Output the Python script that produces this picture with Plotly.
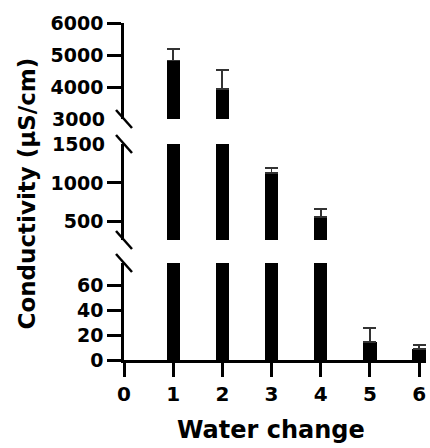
import plotly.graph_objects as go

# Conductivity after each water change (mean, upper SEM)
changes = [1, 2, 3, 4, 5, 6]
conductivity = [4830, 3940, 1123, 565, 14.6, 8.5]
sem = [350, 590, 72, 100, 10.7, 3.2]

x_ticks = [0, 1, 2, 3, 4, 5, 6]
low_ticks = [0, 20, 40, 60]
mid_ticks = [500, 1000]
high_ticks = [4000, 5000, 6000]
# labels sitting on the axis breaks (no tick mark there)
break_labels = [("y2", 1500, "1500"), ("y3", 3000, "3000")]

W, H = 430, 448
M = dict(l=124, r=4, t=23, b=88)
plot_h = H - M["t"] - M["b"]
plot_w = W - M["l"] - M["r"]
y_zero = H - M["b"]


def frac(py):
    return (y_zero - py) / plot_h


# three stacked segments of the broken y axis (pixel rows)
dom_low = [0, frac(263)]
dom_mid = [frac(240), frac(144)]
dom_high = [frac(119), 1]

FONT = "DejaVu Sans"
tick_font = dict(family=FONT, size=19, color="black", weight="bold")

fig = go.Figure()
for yref in ["y", "y2", "y3"]:
    fig.add_trace(go.Bar(
        x=changes, y=conductivity, width=0.27, yaxis=yref,
        marker=dict(color="black", line=dict(width=0)),
        error_y=dict(type="data", array=sem, arrayminus=[0] * len(sem),
                     symmetric=False, color="#333333", thickness=1.8, width=6.5),
        showlegend=False,
    ))

axis_style = dict(showline=True, linewidth=2.5, linecolor="black",
                  ticks="outside", ticklen=14, tickwidth=2.5, tickcolor="black",
                  showgrid=False, zeroline=False, tickfont=tick_font,
                  fixedrange=True)

fig.update_layout(
    width=W, height=H, margin=M,
    paper_bgcolor="white", plot_bgcolor="white",
    bargap=0,
    xaxis=dict(range=[0, 6.14], tickvals=x_ticks, anchor="y",
               tickfont=dict(family=FONT, size=20, color="black", weight="bold"),
               **{k: v for k, v in axis_style.items() if k != "tickfont"}),
    yaxis=dict(domain=dom_low, range=[0, 77.6], tickvals=low_ticks, anchor="x",
               **axis_style),
    yaxis2=dict(domain=dom_mid, range=[265, 1500], tickvals=mid_ticks, anchor="x",
                **axis_style),
    yaxis3=dict(domain=dom_high, range=[3000, 6000], tickvals=high_ticks, anchor="x",
                **axis_style),
)

for yref, val, txt in break_labels:
    fig.add_annotation(x=0, xref="paper", xanchor="right", xshift=-17,
                       y=val, yref=yref, yanchor="middle", showarrow=False,
                       text=txt, font=tick_font)

# axis-break slashes
for fy in [dom_high[0], dom_mid[1], dom_mid[0], dom_low[1]]:
    fig.add_shape(type="line", xref="paper", yref="paper",
                  xsizemode="pixel", ysizemode="pixel",
                  xanchor=0, yanchor=fy, x0=-8, x1=8, y0=9, y1=-9,
                  line=dict(color="black", width=2.5))

fig.add_annotation(text="Conductivity (µS/cm)", textangle=-90,
                   x=(26 - M["l"]) / plot_w, xref="paper", xanchor="center",
                   y=frac(193.5), yref="paper", yanchor="middle", showarrow=False,
                   font=dict(family=FONT, size=23, color="black", weight="bold"))
fig.add_annotation(text="Water change",
                   x=(271 - M["l"]) / plot_w, xref="paper", xanchor="center",
                   y=frac(430), yref="paper", yanchor="middle", showarrow=False,
                   font=dict(family=FONT, size=24, color="black", weight="bold"))

fig.write_html("out.html")
